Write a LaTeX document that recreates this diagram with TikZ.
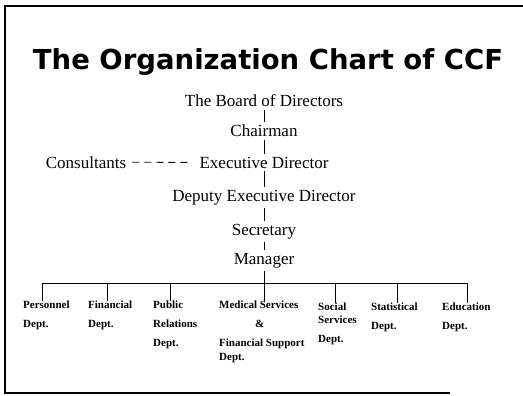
\documentclass[tikz,border=0pt]{standalone}
\usepackage{fontspec}
\setmainfont{Liberation Serif}
\newfontfamily\titlefont{DejaVu Sans}
\tikzstyle{post}=[inner sep=3pt, anchor=base, font=\fontsize{17}{20}\selectfont]
\tikzstyle{dept}=[inner sep=0pt, anchor=north west, align=left,
  font=\fontsize{11}{19}\selectfont\bfseries]
\tikzstyle{link}=[line width=0.9pt]

\begin{document}
\begin{tikzpicture}[x=1pt, y=-1pt]
  \useasboundingbox (0,0) rectangle (523,396);
  \def\spine{264};
  \def\bus{283};
  % frame
  \draw[line width=1.6pt] (465,6) -- (5,6) -- (5,393) -- (450,393);
  \draw[line width=1.6pt] (465,6) -- (523,6);

  \node[inner sep=0pt, anchor=base] (title) at (268,70)
    {\titlefont\bfseries\fontsize{27.5}{30}\selectfont The Organization Chart of CCF};

  \node[post] (board) at (\spine, 107) {The Board of Directors};
  \node[post] (chair) at (\spine, 137) {Chairman};
  \node[post] (exec) at (\spine, 168) {Executive Director};
  \node[post] (cons) at (86, 168) {Consultants};
  \node[post] (deputy) at (\spine, 201) {Deputy Executive Director};
  \node[post] (secr) at (\spine, 235) {Secretary};
  \node[post] (mgr) at (\spine, 264) {Manager};

  \draw[link] (board) -- (chair);
  \draw[link] (chair) -- (exec);
  \draw[link] (exec) -- (deputy);
  \draw[link] (deputy) -- (secr);
  \draw[link] (secr) -- (mgr);
  \draw[link, dash pattern=on 7pt off 5pt, shorten <=3pt, shorten >=8pt]
    (cons.east) -- (exec.west);

  % departments
  \node[dept] (d1) at (23, 301) {Personnel\\Dept.};
  \node[dept] (d2) at (88, 301) {Financial\\Dept.};
  \node[dept] (d3) at (153, 301) {Public\\Relations\\Dept.};
  \node[dept] (d4) at (219, 301)
    {Medical Services\\\hspace*{36pt}\&\\Financial Support\\[-5pt]Dept.};
  \node[dept] (d5) at (318, 303) {Social\\[-6pt]Services\\Dept.};
  \node[dept] (d6) at (371, 303) {Statistical\\Dept.};
  \node[dept] (d7) at (442, 303) {Education\\Dept.};

  \coordinate (b1) at (42, \bus);
  \coordinate (b2) at (107, \bus);
  \coordinate (b3) at (170, \bus);
  \coordinate (b4) at (\spine, \bus);
  \coordinate (b5) at (335, \bus);
  \coordinate (b6) at (397, \bus);
  \coordinate (b7) at (467, \bus);

  \draw[link] (b1) -- (b7);
  \draw[link] (mgr) -- (b4);
  \foreach \x in {1,...,7} {
    \draw[link] (b\x) -- (b\x |- d\x.north);
  }
\end{tikzpicture}
\end{document}
